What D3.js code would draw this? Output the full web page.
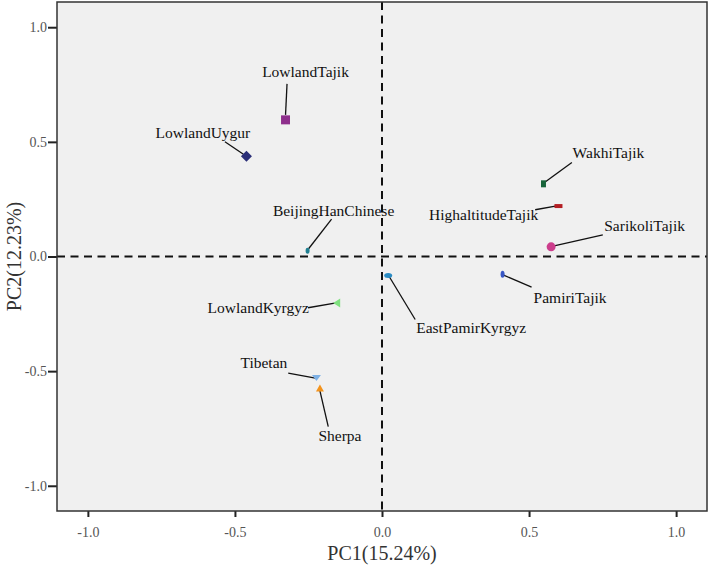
<!DOCTYPE html>
<html>
<head>
<meta charset="utf-8">
<script src="https://cdn.jsdelivr.net/npm/d3@7"></script>
<style>
  html, body { margin: 0; padding: 0; background: #ffffff; }
  svg { display: block; }
  text { font-family: "Liberation Serif", "Times New Roman", serif; }
</style>
</head>
<body>
<svg id="chart" width="709" height="568"></svg>
<script>
// ---- data ----
const populations = ["LowlandTajik", "LowlandUygur", "BeijingHanChinese", "EastPamirKyrgyz",
  "LowlandKyrgyz", "PamiriTajik", "SarikoliTajik", "HighaltitudeTajik", "WakhiTajik", "Tibetan", "Sherpa"];
const pc1 = [-0.328, -0.461, -0.253, 0.021, -0.154, 0.410, 0.575, 0.600, 0.549, -0.223, -0.211];
const pc2 = [0.596, 0.437, 0.025, -0.083, -0.203, -0.077, 0.042, 0.220, 0.317, -0.530, -0.573];
const xTicks = [-1.0, -0.5, 0.0, 0.5, 1.0];
const yTicks = [-1.0, -0.5, 0.0, 0.5, 1.0];
const xTitle = "PC1(15.24%)";
const yTitle = "PC2(12.23%)";

// ---- styling / layout (not data) ----
const markerStyle = {
  LowlandTajik:      { shape: "square",  color: "#8e2f8c", w: 9,  h: 9 },
  LowlandUygur:      { shape: "diamond", color: "#2b2f78", w: 11, h: 11 },
  BeijingHanChinese: { shape: "ellipse", color: "#1f7f91", w: 4,  h: 6 },
  EastPamirKyrgyz:   { shape: "ellipse", color: "#2b8cc4", w: 8,  h: 5 },
  LowlandKyrgyz:     { shape: "triLeft", color: "#7fe07f", w: 7,  h: 9 },
  PamiriTajik:       { shape: "ellipse", color: "#3957c4", w: 4,  h: 7 },
  SarikoliTajik:     { shape: "circle",  color: "#cc3d8c", w: 9,  h: 9 },
  HighaltitudeTajik: { shape: "rect",    color: "#b41f24", w: 8,  h: 4 },
  WakhiTajik:        { shape: "rect",    color: "#17643a", w: 5,  h: 7 },
  Tibetan:           { shape: "triDown", color: "#7fb2e6", w: 9,  h: 6 },
  Sherpa:            { shape: "triUp",   color: "#f3931c", w: 8,  h: 7 }
};
// label anchor (dx, dy) relative to marker, and leader line start (lx, ly)
const labelLayout = {
  LowlandTajik:      { dx: 20,    dy: -43,  lx: 1.5,  ly: -36, ex: 0,   ey: -5 },
  LowlandUygur:      { dx: -43.5, dy: -18.5, lx: -21.5, ly: -14.5, ex: -3, ey: -2 },
  BeijingHanChinese: { dx: 26,    dy: -35,  lx: 24,   ly: -31.7, ex: 1, ey: -2 },
  EastPamirKyrgyz:   { dx: 83,    dy: 57,   lx: 27,   ly: 44,  ex: 1,   ey: 1 },
  LowlandKyrgyz:     { dx: -78.5, dy: 10,   lx: -28.7, ly: 4.7, ex: -2, ey: 0 },
  PamiriTajik:       { dx: 67.5,  dy: 28.5, lx: 29,   ly: 13,  ex: 1,   ey: 1 },
  SarikoliTajik:     { dx: 93.5,  dy: -16.3, lx: 51.7, ly: -12, ex: 3,  ey: -1 },
  HighaltitudeTajik: { dx: -74.8, dy: 13.7, lx: -23.3, ly: 3.7, ex: -3, ey: 0 },
  WakhiTajik:        { dx: 65,    dy: -25.7, lx: 28.4, ly: -21.3, ex: 2, ey: -2 },
  Tibetan:           { dx: -52.5, dy: -10,  lx: -28.2, ly: -5,  ex: -1, ey: 0 },
  Sherpa:            { dx: 20,    dy: 52.7, lx: 8.3,  ly: 38.7, ex: 0,  ey: 3 }
};

const svg = d3.select("#chart");
const plot = { left: 57, right: 707, top: 2, bottom: 511 };

const x = d3.scaleLinear().domain([-1.105, 1.105]).range([plot.left, plot.right]);
const y = d3.scaleLinear().domain([-1.11, 1.11]).range([plot.bottom, plot.top]);

// background
svg.append("rect")
  .attr("x", plot.left).attr("y", plot.top)
  .attr("width", plot.right - plot.left).attr("height", plot.bottom - plot.top)
  .attr("fill", "#f0f0f0");

// reference dashed lines
svg.append("line")
  .attr("x1", plot.left).attr("x2", plot.right)
  .attr("y1", y(0)).attr("y2", y(0))
  .attr("stroke", "#111").attr("stroke-width", 2).attr("stroke-dasharray", "8,5.5");
svg.append("line")
  .attr("x1", x(0)).attr("x2", x(0))
  .attr("y1", plot.top).attr("y2", plot.bottom)
  .attr("stroke", "#111").attr("stroke-width", 2).attr("stroke-dasharray", "8,5.5");

// axes
const xAxis = d3.axisBottom(x).tickValues(xTicks).tickFormat(d3.format(".1f"))
  .tickSize(6).tickPadding(10);
const yAxis = d3.axisLeft(y).tickValues(yTicks).tickFormat(d3.format(".1f"))
  .tickSize(9).tickPadding(1);

const gx = svg.append("g").attr("transform", `translate(0,${plot.bottom})`).call(xAxis);
const gy = svg.append("g").attr("transform", `translate(${plot.left},0)`).call(yAxis);
[gx, gy].forEach(g => {
  g.select(".domain").remove();
  g.selectAll(".tick line").attr("stroke", "#222").attr("stroke-width", 2);
  g.selectAll(".tick text")
    .attr("fill", "#555")
    .style("font-family", "'Liberation Serif', 'Times New Roman', serif")
    .style("font-size", "14px");
});
gx.selectAll(".tick text").attr("dy", "0.71em");
gx.selectAll(".tick text").each(function(d) { d3.select(this).text(d3.format(".1f")(d).replace("−", "-")); });
gy.selectAll(".tick text").each(function(d) { d3.select(this).text(d3.format(".1f")(d).replace("−", "-")); });

// border
svg.append("rect")
  .attr("x", plot.left).attr("y", plot.top)
  .attr("width", plot.right - plot.left).attr("height", plot.bottom - plot.top)
  .attr("fill", "none").attr("stroke", "#333").attr("stroke-width", 1.5);

// axis titles
svg.append("text")
  .attr("x", x(0)).attr("y", 560)
  .attr("text-anchor", "middle")
  .attr("fill", "#333")
  .style("font-size", "20px")
  .text(xTitle);
svg.append("text")
  .attr("transform", `translate(21,${y(0)}) rotate(-90)`)
  .attr("text-anchor", "middle")
  .attr("fill", "#333")
  .style("font-size", "20px")
  .text(yTitle);

// points
const pts = populations.map((name, i) => ({ name, px: x(pc1[i]), py: y(pc2[i]) }));

const g = svg.append("g");
// leader lines
g.selectAll("line.leader").data(pts).join("line")
  .attr("class", "leader")
  .attr("x1", d => d.px + labelLayout[d.name].lx)
  .attr("y1", d => d.py + labelLayout[d.name].ly)
  .attr("x2", d => d.px + labelLayout[d.name].ex)
  .attr("y2", d => d.py + labelLayout[d.name].ey)
  .attr("stroke", "#111").attr("stroke-width", 1.3);

function shapePath(s) {
  const w = s.w / 2, h = s.h / 2;
  switch (s.shape) {
    case "square":
    case "rect": return `M${-w},${-h}H${w}V${h}H${-w}Z`;
    case "diamond": return `M0,${-h}L${w},0L0,${h}L${-w},0Z`;
    case "triLeft": return `M${-w},0L${w},${-h}L${w},${h}Z`;
    case "triDown": return `M${-w},${-h}L${w},${-h}L0,${h}Z`;
    case "triUp": return `M0,${-h}L${w},${h}L${-w},${h}Z`;
    default: return null;
  }
}

pts.forEach(d => {
  const s = markerStyle[d.name];
  if (s.shape === "ellipse" || s.shape === "circle") {
    g.append("ellipse")
      .attr("cx", d.px).attr("cy", d.py)
      .attr("rx", s.w / 2).attr("ry", s.h / 2)
      .attr("fill", s.color);
  } else {
    g.append("path")
      .attr("transform", `translate(${d.px},${d.py})`)
      .attr("d", shapePath(s))
      .attr("fill", s.color);
  }
});

// labels
g.selectAll("text.lbl").data(pts).join("text")
  .attr("class", "lbl")
  .attr("x", d => d.px + labelLayout[d.name].dx)
  .attr("y", d => d.py + labelLayout[d.name].dy)
  .attr("text-anchor", "middle")
  .attr("fill", "#111")
  .style("font-size", "15.5px")
  .text(d => d.name);
</script>
</body>
</html>
